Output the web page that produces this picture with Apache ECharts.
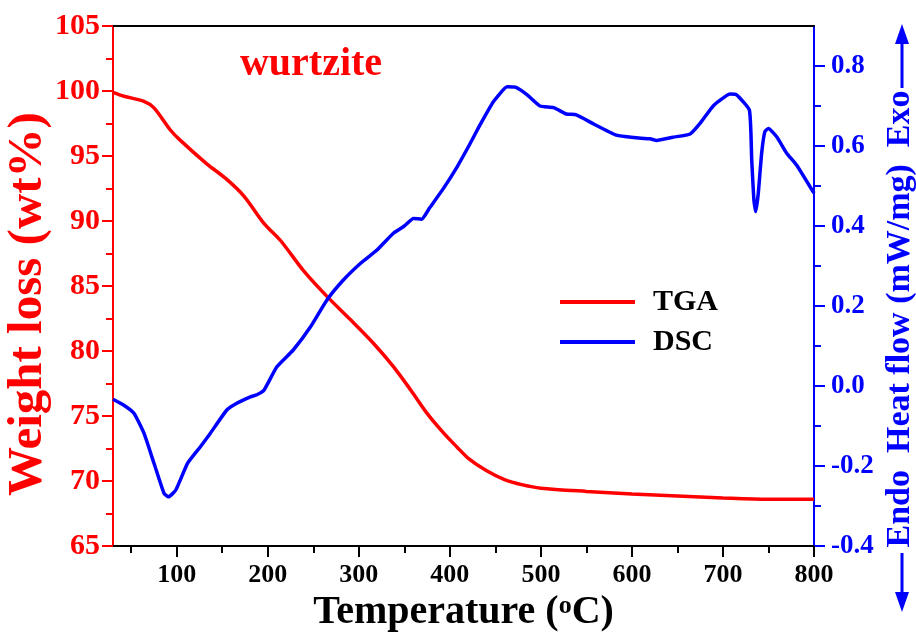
<!DOCTYPE html>
<html>
<head>
<meta charset="utf-8">
<script src="https://cdn.jsdelivr.net/npm/echarts@6/dist/echarts.min.js"></script>
<style>html,body{margin:0;padding:0;background:#fff}#c{width:916px;height:639px}</style>
</head>
<body>
<div id="c"></div>
<script>
// ---- data ----
const tgaT = [30,42,64,75,93,104,133,155,174,196,214,239,265,291,316,338,357,375,393,408,421,440,460,480,500,550,600,650,700,750,800];
const tgaW = [99.9,99.6,99.2,98.7,97.0,96.2,94.4,93.2,91.9,89.8,88.5,86.2,84.2,82.4,80.6,78.8,77.0,75.2,73.7,72.6,71.7,70.8,70.1,69.7,69.45,69.2,69.0,68.85,68.7,68.6,68.6];
const dscT = [30,42,53,64,75,86,91,99,112,126,137,155,166,181,188,196,210,228,247,265,283,302,320,338,350,360,369,378,393,408,422,433,448,463,472,485,499,514,528,539,558,583,602,620,627,645,664,675,690,708,715,729,731.6,734,736,738.8,742.5,746,750,759,770,781,800];
const dscV = [-0.033,-0.048,-0.068,-0.118,-0.193,-0.268,-0.277,-0.26,-0.193,-0.152,-0.118,-0.06,-0.043,-0.027,-0.022,-0.01,0.048,0.09,0.148,0.215,0.265,0.307,0.34,0.382,0.40,0.419,0.417,0.446,0.494,0.548,0.605,0.652,0.711,0.748,0.747,0.728,0.70,0.696,0.68,0.678,0.655,0.627,0.621,0.618,0.614,0.622,0.63,0.657,0.702,0.73,0.728,0.69,0.565,0.465,0.436,0.482,0.582,0.636,0.644,0.623,0.582,0.552,0.482];
const xMajor = [100,200,300,400,500,600,700,800];
const xMinor = [50,150,250,350,450,550,650,750];
const rMajor = [-0.4,-0.2,0.0,0.2,0.4,0.6,0.8];
const rMinor = [-0.3,-0.1,0.1,0.3,0.5,0.7];

const RED = '#ff0000', BLUE = '#0000ff';
const FONT = 'Liberation Serif';
const chart = echarts.init(document.getElementById('c'));
const tga = tgaT.map((t,i)=>[t,tgaW[i]]);
const dsc = dscT.map((t,i)=>[t,dscV[i]]);

chart.setOption({
  animation: false,
  grid: {left:113, right:102, top:26, bottom:93, containLabel:false},
  legend: {
    orient:'vertical', left:555, top:282, itemWidth:75, itemHeight:4, itemGap:10,
    icon:'rect',
    textStyle:{fontFamily:FONT, fontWeight:'bold', fontSize:30, color:'#000', lineHeight:30, padding:[0,0,0,13]},
    data:[{name:'TGA', itemStyle:{color:RED}}, {name:'DSC', itemStyle:{color:BLUE}}]
  },
  xAxis: [
    {type:'value', position:'bottom', min:30, max:800, interval:100,
     axisLine:{show:true, onZero:false, lineStyle:{color:'#000', width:2}},
     axisTick:{show:true, inside:false, length:11, customValues:xMajor, lineStyle:{color:'#000', width:2}},
     axisLabel:{customValues:xMajor, margin:16, color:'#000', fontFamily:FONT, fontWeight:'bold', fontSize:26},
     splitLine:{show:false},
     name:'{a|Temperature (}{s|o}{a|C)}', nameLocation:'middle', nameGap:40,
     nameTextStyle:{rich:{
       a:{fontFamily:FONT, fontWeight:'bold', fontSize:40, lineHeight:40, color:'#000'},
       s:{fontFamily:FONT, fontWeight:'bold', fontSize:26, lineHeight:22, color:'#000', verticalAlign:'top'}
     }}},
    {type:'value', position:'bottom', min:30, max:800, interval:50,
     axisLine:{show:false, onZero:false},
     axisTick:{show:true, inside:false, length:7, customValues:xMinor, lineStyle:{color:'#000', width:2}},
     axisLabel:{show:false}, splitLine:{show:false}},
    {type:'value', position:'top', min:30, max:800,
     axisLine:{show:true, onZero:false, lineStyle:{color:'#000', width:2}},
     axisTick:{show:false}, axisLabel:{show:false}, splitLine:{show:false}}
  ],
  yAxis: [
    {type:'value', position:'left', min:65, max:105, interval:5,
     axisLine:{show:true, onZero:false, lineStyle:{color:RED, width:2}},
     axisTick:{show:true, inside:false, length:11, lineStyle:{color:RED, width:2}},
     minorTick:{show:true, splitNumber:2, length:7, lineStyle:{color:RED, width:2}},
     axisLabel:{margin:13, color:RED, fontFamily:FONT, fontWeight:'bold', fontSize:30},
     splitLine:{show:false}, minorSplitLine:{show:false}},
    {type:'value', position:'right', min:-0.4, max:0.9, interval:0.2,
     axisLine:{show:true, onZero:false, lineStyle:{color:BLUE, width:2}},
     axisTick:{show:true, inside:false, length:11, customValues:rMajor, lineStyle:{color:BLUE, width:2}},
     axisLabel:{customValues:rMajor, margin:17, color:BLUE, fontFamily:FONT, fontWeight:'bold', fontSize:27,
       formatter:v=>Number(v).toFixed(1)},
     splitLine:{show:false}},
    {type:'value', position:'right', min:-0.4, max:0.9, interval:0.1,
     axisLine:{show:false, onZero:false},
     axisTick:{show:true, inside:false, length:7, customValues:rMinor, lineStyle:{color:BLUE, width:2}},
     axisLabel:{show:false}, splitLine:{show:false}}
  ],
  series: [
    {name:'TGA', type:'line', xAxisIndex:0, yAxisIndex:0, data:tga, symbol:'none', smooth:0.3,
     lineStyle:{color:RED, width:3.5}, itemStyle:{color:RED}},
    {name:'DSC', type:'line', xAxisIndex:0, yAxisIndex:1, data:dsc, symbol:'none', smooth:0.15,
     lineStyle:{color:BLUE, width:3.5, join:'round'}, itemStyle:{color:BLUE}}
  ],
  graphic: [
    {type:'text', x:311, y:65, style:{text:'wurtzite', fill:RED, font:'bold 40px "Liberation Serif"', align:'center', verticalAlign:'middle'}},
    {type:'text', x:28, y:304, rotation:Math.PI/2, style:{text:'Weight loss (wt%)', fill:RED, font:'bold 49px "Liberation Serif"', align:'center', verticalAlign:'middle'}},
    {type:'text', x:900, y:319, rotation:Math.PI/2, style:{text:'Endo  Heat flow (mW/mg)  Exo', fill:BLUE, font:'bold 34px "Liberation Serif"', align:'center', verticalAlign:'middle'}},
    {type:'line', shape:{x1:902, y1:88, x2:902, y2:40}, style:{stroke:BLUE, lineWidth:3}},
    {type:'polygon', shape:{points:[[902,24],[895,44],[909,44]]}, style:{fill:BLUE}},
    {type:'line', shape:{x1:902, y1:553, x2:902, y2:596}, style:{stroke:BLUE, lineWidth:3}},
    {type:'polygon', shape:{points:[[902,612],[895,592],[909,592]]}, style:{fill:BLUE}}
  ]
});
</script>
</body>
</html>
